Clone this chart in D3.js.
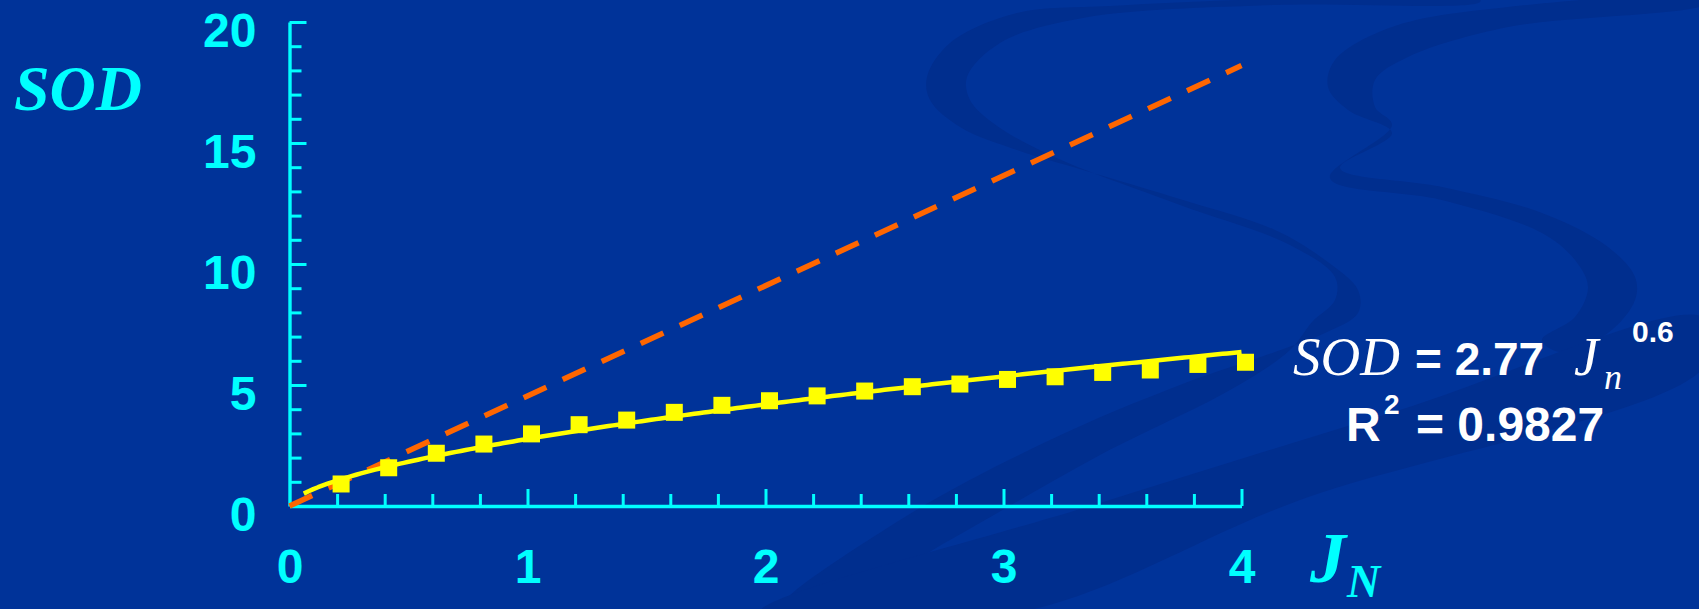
<!DOCTYPE html>
<html>
<head>
<meta charset="utf-8">
<script src="https://cdn.jsdelivr.net/npm/d3@7"></script>
<style>
  html, body { margin: 0; padding: 0; background: #003399; overflow: hidden; }
  svg { display: block; }
</style>
</head>
<body>
<svg id="chart" width="1699" height="609"></svg>
<script>
// Measured SOD against normalised flux J_N
const jnValues  = [0.2, 0.4, 0.6, 0.8, 1.0, 1.2, 1.4, 1.6, 1.8, 2.0,
                   2.2, 2.4, 2.6, 2.8, 3.0, 3.2, 3.4, 3.6, 3.8, 4.0];
const sodValues = [0.91, 1.58, 2.18, 2.56, 2.98, 3.36, 3.55, 3.87, 4.16, 4.35,
                   4.55, 4.75, 4.93, 5.04, 5.23, 5.34, 5.52, 5.62, 5.85, 5.94];

// Straight reference line (dashed)
const refJn  = [0, 4];
const refSod = [0, 18.2];

// Power-law fit printed on the chart: SOD = 2.77 J_n^0.6, R² = 0.9827
const fitCoefficient = 2.77;
const fitExponent = 0.6;
const fitRange = [0.06, 4.0];
const fitR2Label = "0.9827";

// Axis ticks
const xTickLabels = [0, 1, 2, 3, 4];
const yTickLabels = [0, 5, 10, 15, 20];
const xMinorStep = 0.2;
const yMinorStep = 1;

const svg = d3.select("#chart");
const W = 1699, H = 609;

const cyan = "#00FFFF";
const sans = "'Liberation Sans', Arial, sans-serif";
const serif = "'Liberation Serif', 'Times New Roman', serif";

// ---- background with soft swirl ribbons ----
svg.append("rect").attr("width", W).attr("height", H).attr("fill", "#003399");

const deco = svg.append("g").attr("fill", "#002E8E");
const curve = d3.line().curve(d3.curveCatmullRomClosed.alpha(0.5));
// left S ribbon
deco.append("path").attr("d", curve([
  [1480, -2], [1275, -1], [1110, 6], [1017, 13], [950, 43], [927, 77], [930, 100], [960, 127],
  [1017, 150], [1083, 170], [1183, 200], [1275, 230], [1325, 260], [1358, 290], [1358, 313],
  [1325, 333], [1275, 352], [1180, 385], [1050, 440], [900, 520], [780, 609],
  [820, 612], [950, 540], [1100, 455], [1230, 390], [1290, 350], [1312, 322], [1335, 300],
  [1335, 277], [1290, 245], [1180, 205], [1050, 155], [993, 123], [970, 100], [967, 77],
  [1000, 43], [1083, 18], [1275, 5], [1480, 2]
]));
// right S ribbon
deco.append("path").attr("d", curve([
  [1705, -2], [1508, 7], [1392, 27], [1335, 60], [1328, 87], [1348, 110], [1392, 133],
  [1340, 168], [1442, 187], [1542, 213], [1608, 247], [1635, 277], [1635, 300], [1608, 333],
  [1560, 352], [1542, 340], [1575, 317], [1588, 287], [1575, 260], [1542, 233], [1442, 200],
  [1330, 178], [1392, 125], [1375, 107], [1375, 80], [1408, 57], [1508, 27], [1705, 4]
]));
// broad diagonal band
deco.append("path").attr("d", curve([
  [1705, 318], [1400, 410], [1100, 503], [760, 612], [1020, 612], [1300, 500], [1705, 366]
]));

// ---- scales ----
const x = d3.scaleLinear().domain([0, 4]).range([289.5, 1241.5]);
const y = d3.scaleLinear().domain([0, 20]).range([506, 22]);

const majorLen = 17, minorLen = 12;

// ---- x axis ----
const xTicks = d3.range(0, 4 + 1e-9, xMinorStep).map(v => +v.toFixed(1));
const xAxis = d3.axisBottom(x)
  .tickValues(xTicks)
  .tickSizeInner(-minorLen)
  .tickSizeOuter(0)
  .tickFormat(v => xTickLabels.includes(v) ? d3.format("d")(v) : "");
const gx = svg.append("g").attr("transform", `translate(0,${y(0)})`).call(xAxis);
gx.select(".domain").attr("stroke", cyan).attr("stroke-width", 3.4);
gx.selectAll(".tick line").attr("stroke", cyan).attr("stroke-width", 3)
  .attr("y2", d => xTickLabels.includes(d) ? -majorLen : -minorLen);
gx.selectAll(".tick").filter(d => d === 0).select("line").remove();
gx.selectAll(".tick text")
  .attr("fill", cyan).attr("font-family", sans).attr("font-weight", "bold")
  .attr("font-size", 48).attr("dy", null).attr("y", 77);

// ---- y axis ----
const yTicks = d3.range(0, 20 + 1e-9, yMinorStep);
const yAxis = d3.axisLeft(y)
  .tickValues(yTicks)
  .tickSizeInner(-minorLen)
  .tickSizeOuter(0)
  .tickFormat(v => yTickLabels.includes(v) ? d3.format("d")(v) : "");
const gy = svg.append("g").attr("transform", `translate(${x(0)},0)`).call(yAxis);
gy.select(".domain").attr("stroke", cyan).attr("stroke-width", 3.4);
gy.selectAll(".tick line").attr("stroke", cyan).attr("stroke-width", 3)
  .attr("x2", d => yTickLabels.includes(d) ? majorLen : minorLen);
gy.selectAll(".tick").filter(d => d === 0).select("line").remove();
gy.selectAll(".tick text")
  .attr("fill", cyan).attr("font-family", sans).attr("font-weight", "bold")
  .attr("font-size", 48).attr("dy", null).attr("x", -33).attr("y", 24);

// ---- dashed reference line ----
const refLine = d3.line().x(d => x(d[0])).y(d => y(d[1]));
svg.append("path")
  .attr("d", refLine(refJn.map((v, i) => [v, refSod[i]])))
  .attr("fill", "none").attr("stroke", "#FF6600").attr("stroke-width", 5.5)
  .attr("stroke-dasharray", "25,18");

// ---- power-law trend line ----
const fitJn = d3.range(fitRange[0], fitRange[1] + 1e-9, 0.02);
const fitLine = d3.line().x(d => x(d)).y(d => y(fitCoefficient * Math.pow(d, fitExponent)));
svg.append("path")
  .attr("d", fitLine(fitJn))
  .attr("fill", "none").attr("stroke", "#FFFF00").attr("stroke-width", 4.5)
  .attr("stroke-linejoin", "round");

// ---- measured points ----
const sq = 17;
svg.append("g").selectAll("rect")
  .data(jnValues.map((v, i) => ({ jn: v, sod: sodValues[i] })))
  .join("rect")
  .attr("x", d => x(d.jn) - sq / 2 + 4)
  .attr("y", d => y(d.sod) - sq / 2)
  .attr("width", sq).attr("height", sq)
  .attr("fill", "#FFFF00");

// ---- axis titles ----
svg.append("text").attr("x", 14).attr("y", 110)
  .attr("font-family", serif).attr("font-style", "italic").attr("font-weight", "bold")
  .attr("font-size", 64).attr("fill", cyan).text("SOD");

const jn = svg.append("text").attr("x", 1310).attr("y", 582)
  .attr("font-family", serif).attr("font-style", "italic").attr("font-weight", "bold")
  .attr("fill", cyan);
jn.append("tspan").attr("font-size", 72).text("J");
jn.append("tspan").attr("font-size", 46).attr("x", 1347).attr("y", 597).text("N");

// ---- fit equation ----
const eq = svg.append("g").attr("fill", "white");
eq.append("text").attr("x", 1293).attr("y", 375)
  .attr("font-family", serif).attr("font-style", "italic").attr("font-size", 55).text("SOD");
eq.append("text").attr("x", 1415).attr("y", 375)
  .attr("font-family", sans).attr("font-weight", "bold").attr("font-size", 46)
  .text("= " + d3.format(".2f")(fitCoefficient));
eq.append("text").attr("x", 1574).attr("y", 375)
  .attr("font-family", serif).attr("font-style", "italic").attr("font-size", 55).text("J");
eq.append("text").attr("x", 1604).attr("y", 389)
  .attr("font-family", serif).attr("font-style", "italic").attr("font-size", 36).text("n");
eq.append("text").attr("x", 1632).attr("y", 342)
  .attr("font-family", sans).attr("font-weight", "bold").attr("font-size", 30)
  .text(String(fitExponent));

eq.append("text").attr("x", 1346).attr("y", 441)
  .attr("font-family", sans).attr("font-weight", "bold").attr("font-size", 48).text("R");
eq.append("text").attr("x", 1384).attr("y", 414)
  .attr("font-family", sans).attr("font-weight", "bold").attr("font-size", 28).text("2");
eq.append("text").attr("x", 1416).attr("y", 441)
  .attr("font-family", sans).attr("font-weight", "bold").attr("font-size", 48)
  .text("= " + fitR2Label);
</script>
</body>
</html>
